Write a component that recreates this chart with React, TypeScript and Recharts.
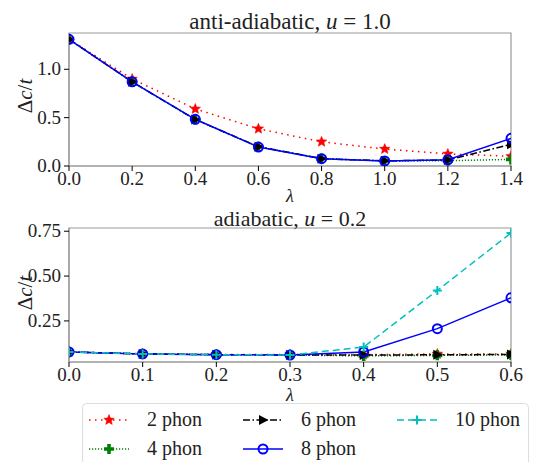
import React from 'react';
import { LineChart, Line, XAxis, YAxis, ReferenceArea } from 'recharts';

// anti-adiabatic panel, u = 1.0
const lambdaTop = [0, 0.2, 0.4, 0.6, 0.8, 1.0, 1.2, 1.4];
const top2 = [1.31, 0.9, 0.59, 0.385, 0.25, 0.175, 0.125, 0.1];
const top4 = [1.31, 0.87, 0.48, 0.2, 0.077, 0.052, 0.055, 0.068];
const top6 = [1.31, 0.87, 0.48, 0.2, 0.076, 0.053, 0.062, 0.224];
const top8 = [1.31, 0.87, 0.483, 0.196, 0.076, 0.052, 0.064, 0.286];

// adiabatic panel, u = 0.2
const lambdaBottom = [0, 0.1, 0.2, 0.3, 0.4, 0.5, 0.6];
const bot2 = [0.077, 0.067, 0.063, 0.063, 0.062, 0.066, 0.066];
const bot4 = [0.077, 0.066, 0.062, 0.06, 0.055, 0.058, 0.06];
const bot6 = [0.077, 0.066, 0.062, 0.06, 0.06, 0.061, 0.063];
const bot8 = [0.077, 0.066, 0.062, 0.06, 0.077, 0.207, 0.379];
const bot10 = [0.077, 0.066, 0.062, 0.06, 0.104, 0.42, 0.74];

const topXTicks = [0, 0.2, 0.4, 0.6, 0.8, 1.0, 1.2, 1.4];
const topYTicks = [0, 0.5, 1.0];
const botXTicks = [0, 0.1, 0.2, 0.3, 0.4, 0.5, 0.6];
const botYTicks = [0.25, 0.5, 0.75];

const topData = lambdaTop.map((l, i) => ({ l, p2: top2[i], p4: top4[i], p6: top6[i], p8: top8[i] }));
const botData = lambdaBottom.map((l, i) => ({
  l, p2: bot2[i], p4: bot4[i], p6: bot6[i], p8: bot8[i], p10: bot10[i],
}));

const FONT = "'Liberation Serif', 'DejaVu Serif', serif";
const RED = '#ff0000';
const GREEN = '#008000';
const BLUE = '#0000ff';
const CYAN = '#00bfbf';
const FRAME = '#999';
const TXT = { fontFamily: FONT } as React.CSSProperties;

const starPath = (cx: number, cy: number, r: number) => {
  const pts: string[] = [];
  for (let k = 0; k < 10; k++) {
    const rad = k % 2 === 0 ? r : r * 0.45;
    const a = -Math.PI / 2 + (k * Math.PI) / 5;
    pts.push(`${cx + rad * Math.cos(a)},${cy + rad * Math.sin(a)}`);
  }
  return 'M' + pts.join('L') + 'Z';
};

const Star = ({ cx, cy }: any) => <path d={starPath(cx, cy, 5.5)} fill={RED} stroke={RED} strokeWidth={0.5} />;
const FatPlus = ({ cx, cy }: any) => (
  <path
    d={`M${cx - 1.8},${cy - 5}h3.6v3.2h3.2v3.6h-3.2v3.2h-3.6v-3.2h-3.2v-3.6h3.2z`}
    fill={GREEN}
  />
);
const TriRight = ({ cx, cy }: any) => (
  <path d={`M${cx + 5.5},${cy}L${cx - 4},${cy - 5}L${cx - 4},${cy + 5}Z`} fill="#000" />
);
const Ring = ({ cx, cy }: any) => <circle cx={cx} cy={cy} r={4.5} fill="none" stroke={BLUE} strokeWidth={2} />;
const ThinPlus = ({ cx, cy }: any) => (
  <path d={`M${cx - 4.5},${cy}h9M${cx},${cy - 4.5}v9`} stroke={CYAN} strokeWidth={2} fill="none" />
);

const dotOf = (Shape: any) => (p: any) => <Shape key={p.index} cx={p.cx} cy={p.cy} />;

// tick drawn as plain svg text so the serif font is used
const makeTick = (fmt: (v: number) => string, axis: 'x' | 'y') => (p: any) => {
  const { x, y, payload } = p;
  if (axis === 'x') {
    return (
      <text x={x} y={y + 12} textAnchor="middle" fontSize={19} style={TXT} fill="#222">
        {fmt(payload.value)}
      </text>
    );
  }
  return (
    <text x={x} y={y + 6} textAnchor="end" fontSize={19} style={TXT} fill="#222">
      {fmt(payload.value)}
    </text>
  );
};

const series = [
  { key: 'p2', color: RED, dash: '1.5 4.5', width: 1.5, shape: Star, name: '2 phon' },
  { key: 'p4', color: GREEN, dash: '1.2 1.8', width: 1.5, shape: FatPlus, name: '4 phon' },
  { key: 'p6', color: '#000', dash: '7 2.5 1.5 2.5', width: 1.5, shape: TriRight, name: '6 phon' },
  { key: 'p8', color: BLUE, dash: undefined, width: 1.5, shape: Ring, name: '8 phon' },
  { key: 'p10', color: CYAN, dash: '7 4', width: 1.5, shape: ThinPlus, name: '10 phon' },
];

function Panel({ data, keys, xTicks, yTicks, xMax, yDomain, fmt, height, top }: any) {
  const fx = (v: number) => v.toFixed(1);
  return (
    <LineChart
      width={539}
      height={height}
      data={data}
      margin={{ top, right: 28, left: 0, bottom: 0 }}
      style={TXT}
    >
      <ReferenceArea
        x1={0}
        x2={xMax}
        y1={yDomain[0]}
        y2={yDomain[1]}
        fill="none"
        stroke={FRAME}
        strokeWidth={1.2}
      />
      <XAxis
        dataKey="l"
        type="number"
        domain={[0, xMax]}
        ticks={xTicks}
        allowDataOverflow
        tickFormatter={fx}
        tick={makeTick(fx, 'x')}
        tickSize={5}
        tickMargin={2}
        height={30}
        axisLine={{ stroke: FRAME, strokeWidth: 1.2 }}
        tickLine={{ stroke: '#000' }}
      />
      <YAxis
        type="number"
        domain={yDomain}
        ticks={yTicks}
        allowDataOverflow
        tickFormatter={fmt}
        tick={makeTick(fmt, 'y')}
        tickSize={5}
        tickMargin={3}
        width={69}
        axisLine={{ stroke: FRAME, strokeWidth: 1.2 }}
        tickLine={{ stroke: '#000' }}
      />
      {series
        .filter((s) => keys.includes(s.key))
        .map((s) => (
          <Line
            key={s.key}
            dataKey={s.key}
            type="linear"
            stroke={s.color}
            strokeWidth={s.width}
            strokeDasharray={s.dash}
            dot={dotOf(s.shape)}
            activeDot={false}
            isAnimationActive={false}
          />
        ))}
    </LineChart>
  );
}

function LegendEntry({ s, x, y }: any) {
  const Shape = s.shape;
  return (
    <g>
      <line x1={x} x2={x + 40} y1={y} y2={y} stroke={s.color} strokeWidth={1.5} strokeDasharray={s.dash} />
      <Shape cx={x + 20} cy={y} />
      <text x={x + 58} y={y + 6} fontSize={20} style={TXT} fill="#222">
        {s.name}
      </text>
    </g>
  );
}

export default function App() {
  const labelProps = { style: TXT, fill: '#222' };
  return (
    <div style={{ position: 'absolute', left: 0, top: 0, width: 539, height: 462, background: '#fff', overflow: 'hidden', fontFamily: FONT }}>
      <div style={{ position: 'absolute', left: 0, top: 0 }}>
        <Panel
          data={topData}
          keys={['p2', 'p4', 'p6', 'p8']}
          xTicks={topXTicks}
          yTicks={topYTicks}
          xMax={1.4}
          yDomain={[0, 1.375]}
          fmt={(v: number) => v.toFixed(1)}
          height={196}
          top={33}
        />
      </div>
      <div style={{ position: 'absolute', left: 0, top: 200 }}>
        <Panel
          data={botData}
          keys={['p2', 'p4', 'p6', 'p8', 'p10']}
          xTicks={botXTicks}
          yTicks={botYTicks}
          xMax={0.6}
          yDomain={[0.021, 0.768]}
          fmt={(v: number) => v.toFixed(2)}
          height={192}
          top={28}
        />
      </div>
      <svg width={539} height={462} style={{ position: 'absolute', left: 0, top: 0, pointerEvents: 'none' }}>
        <text x={290} y={29} textAnchor="middle" fontSize={23} {...labelProps}>
          anti-adiabatic, <tspan fontStyle="italic">u</tspan> = 1.0
        </text>
        <text x={290} y={226} textAnchor="middle" fontSize={22} {...labelProps}>
          adiabatic, <tspan fontStyle="italic">u</tspan> = 0.2
        </text>
        <text x={290} y={202} textAnchor="middle" fontSize={18} fontStyle="italic" {...labelProps}>λ</text>
        <text x={290} y={401} textAnchor="middle" fontSize={18} fontStyle="italic" {...labelProps}>λ</text>
        <text
          transform="translate(32,96) rotate(-90)"
          textAnchor="middle"
          fontSize={21}
          {...labelProps}
        >
          Δ<tspan fontStyle="italic">c</tspan>/<tspan fontStyle="italic">t</tspan>
        </text>
        <text
          transform="translate(32,293) rotate(-90)"
          textAnchor="middle"
          fontSize={21}
          {...labelProps}
        >
          Δ<tspan fontStyle="italic">c</tspan>/<tspan fontStyle="italic">t</tspan>
        </text>
        <rect x={82.5} y={403.5} width={446} height={70} rx={4} fill="#fff" fillOpacity={0.9} stroke="#ddd" />
        <LegendEntry s={series[0]} x={89} y={420} />
        <LegendEntry s={series[1]} x={89} y={449} />
        <LegendEntry s={series[2]} x={243} y={420} />
        <LegendEntry s={series[3]} x={243} y={449} />
        <LegendEntry s={series[4]} x={397} y={420} />
      </svg>
    </div>
  );
}
